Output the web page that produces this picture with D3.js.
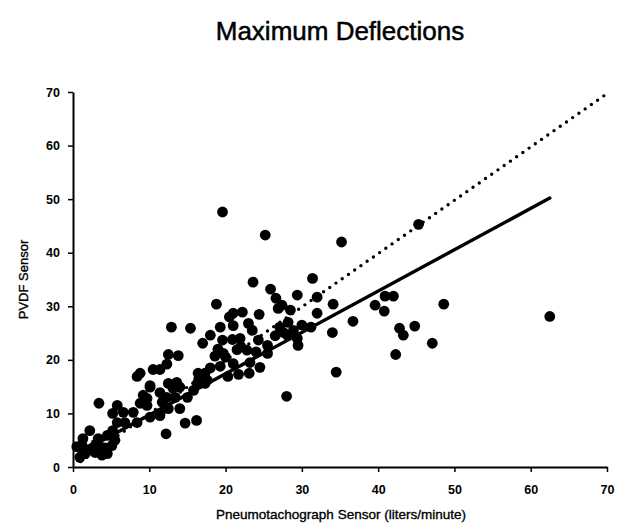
<!DOCTYPE html>
<html lang="en">
<head>
<meta charset="utf-8" />
<title>Maximum Deflections</title>
<style>
  html,body{margin:0;padding:0;background:#fff;}
  body{font-family:"Liberation Sans",Arial,Helvetica,sans-serif;}
  .tick text{font-weight:bold;font-size:12.5px;fill:#000;}
  .tick line,.domain{stroke:#000;}
  .lbl{fill:#000;stroke:#000;stroke-width:0.35px;}
</style>
</head>
<body>
<svg id="chart" width="618" height="527"></svg>
<script src="https://d3js.org/d3.v7.min.js"></script>
<script>
// ---- data ----
const pneumo = [
  0.5,0.9,1.2,1.3,1.6,2.2,2.5,2.9,3.3,3.4,3.5,3.8,3.9,4.5,4.5,5.1,5.2,5.5,5.2,5.8,5.8,6.6,6.8,7.9,8.4,8.8,9.7,10.1,11.4,12.2,8.4,8.8,
  9.2,9.7,10.1,10.1,10.5,11.4,11.4,11.4,11.7,12.3,12.3,12.5,12.5,12.5,12.9,13.1,13.4,13.6,13.8,14.0,14.0,14.7,15.4,16.2,16.3,16.4,
  17.0,17.3,17.3,17.6,18.0,18.6,18.8,19.3,19.3,19.6,19.6,19.7,20.3,20.5,20.9,21.0,21.0,21.0,21.5,21.7,21.9,22.2,22.8,23.0,23.1,
  23.2,23.5,23.6,24.3,24.4,24.5,25.2,25.5,25.5,25.9,26.6,26.9,27.1,27.4,27.6,28.0,28.1,28.2,28.5,28.9,29.4,29.4,29.5,31.2,31.4,
  32.0,32.0,34.0,34.1,34.5,35.2,36.7,39.6,40.8,40.9,42.0,42.3,42.8,43.3,44.8,45.3,47.1,48.6,62.5,
  15.0,15.8,16.5,18.0,19.0,20.0,22.0,24.0,26.5,30.0,2.0,3.0,4.2
];
const pvdf = [
  3.8,1.8,4.0,5.3,2.5,6.8,3.5,2.7,5.3,11.9,2.8,2.2,3.6,2.5,5.9,4.0,6.8,5.0,10.0,11.5,8.3,10.2,8.3,10.2,8.3,11.9,12.8,15.2,10.0,6.2,16.9,17.5,
  13.4,11.5,9.3,14.9,18.2,18.2,13.9,9.6,12.1,13.0,19.2,10.9,15.6,21.0,26.1,14.7,13.0,15.8,20.8,14.9,10.9,8.2,25.9,8.7,15.6,17.5,
  23.1,17.5,15.6,16.2,24.6,20.7,30.4,26.1,18.8,23.7,47.6,21.2,16.9,28.0,23.8,28.7,26.4,19.3,21.9,17.3,24.0,28.9,21.8,26.8,17.5,
  19.5,25.5,34.5,23.7,28.5,18.6,43.3,22.7,21.2,33.2,31.5,29.6,26.1,30.2,25.1,13.2,24.6,27.0,29.3,25.5,32.1,24.0,22.7,26.1,35.2,
  31.7,28.7,25.1,30.4,17.7,42.0,27.2,30.2,29.1,31.9,31.9,21.0,25.9,24.6,26.3,45.3,23.1,30.4,28.1,
  13.0,14.3,16.5,18.5,22.0,20.5,22.5,21.5,24.5,26.5,3.2,4.3,3.0
];
// fitted regression (solid) and line of identity (dotted), end points
const fitX = [0.8, 62.5], fitY = [2.6, 50.2];
const idX = [1, 69.8], idY = [1, 69.5];
const xTicks = [0,10,20,30,40,50,60,70];
const yTicks = [0,10,20,30,40,50,60,70];

// ---- layout ----
const svg = d3.select('#chart');
const m = {left:73, right:11, top:92, bottom:60};
const W = 618, H = 527;
const x = d3.scaleLinear().domain([0,70]).range([m.left, W-m.right]);
const y = d3.scaleLinear().domain([0,70]).range([H-m.bottom, m.top]);

svg.append('text').attr('class','lbl').attr('x',340).attr('y',40).attr('text-anchor','middle')
  .style('font-size','26px').style('stroke-width','0.5px').text('Maximum Deflections');

// axes
const gx = svg.append('g').attr('transform',`translate(0,${y(0)})`)
  .call(d3.axisBottom(x).tickValues(xTicks).tickSize(5).tickSizeOuter(0).tickPadding(13));
const gy = svg.append('g').attr('transform',`translate(${x(0)},0)`)
  .call(d3.axisLeft(y).tickValues(yTicks).tickSize(5).tickSizeOuter(0).tickPadding(8));
gx.select('.domain').attr('stroke-width',2);
gy.select('.domain').attr('stroke-width',2);
gx.selectAll('.tick line').attr('stroke-width',1.5);
gy.selectAll('.tick line').attr('stroke-width',1.5);

svg.append('text').attr('class','lbl').attr('x',341).attr('y',H-8).attr('text-anchor','middle')
  .style('font-size','13.5px').text('Pneumotachograph Sensor (liters/minute)');
svg.append('text').attr('class','lbl').attr('transform',`translate(28,${(y(0)+y(70))/2}) rotate(-90)`)
  .attr('text-anchor','middle').style('font-size','13px').text('PVDF Sensor');

// points
svg.append('g').selectAll('circle').data(pneumo.map((v,i)=>[v,pvdf[i]])).join('circle')
  .attr('cx',d=>x(d[0])).attr('cy',d=>y(d[1])).attr('r',5.4).attr('fill','#000');

// lines
const line = d3.line().x(d=>x(d[0])).y(d=>y(d[1]));
svg.append('path').datum(idX.map((v,i)=>[v,idY[i]])).attr('d',line)
  .attr('fill','none').attr('stroke','#000').attr('stroke-width',3.4)
  .attr('stroke-linecap','round').attr('stroke-dasharray','0 7.6');
svg.append('path').datum(fitX.map((v,i)=>[v,fitY[i]])).attr('d',line)
  .attr('fill','none').attr('stroke','#000').attr('stroke-width',3.4)
  .attr('stroke-linecap','round');
</script>
</body>
</html>
